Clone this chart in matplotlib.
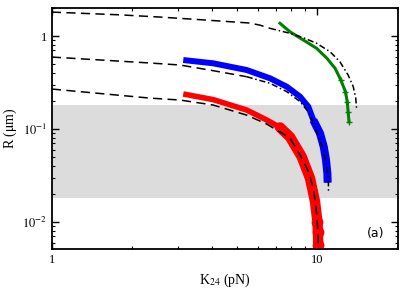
import numpy as np
import matplotlib
matplotlib.use("Agg")
import matplotlib.pyplot as plt
from matplotlib.ticker import FixedLocator, FuncFormatter, LogLocator, NullFormatter

plt.rcParams['font.family'] = ['Liberation Serif', 'DejaVu Serif']
plt.rcParams['mathtext.fontset'] = 'stix'

# theory curves
top_k = [1.0, 1.81, 2.56, 3.62, 5.58, 6.09, 6.65, 7.91, 8.88, 9.97, 11.2, 12.2, 13.1, 13.7, 14.0, 14.1]
top_r = [1.81, 1.69, 1.60, 1.50, 1.38, 1.31, 1.21, 1.07, 0.959, 0.835, 0.678, 0.529, 0.381, 0.285, 0.214, 0.164]
mid_k = [1.0, 2.34, 3.04, 4.06, 5.43, 6.65, 7.69, 8.63, 9.27, 9.68, 10.6, 11.03, 11.05]
mid_r = [0.594, 0.513, 0.488, 0.424, 0.365, 0.310, 0.252, 0.197, 0.153, 0.115, 0.059, 0.0307, 0.0204]
bot_k = [1.0, 2.34, 3.04, 4.06, 5.43, 6.46, 7.04, 7.91, 8.63, 9.27, 9.68, 9.91, 10.04, 10.11]
bot_r = [0.269, 0.215, 0.205, 0.181, 0.141, 0.113, 0.0975, 0.080, 0.0525, 0.0353, 0.0232, 0.0145, 0.0093, 0.0059]

# simulation data
red_k = [3.13, 4.06, 5.43, 6.46, 7.25, 7.91, 8.75, 9.41, 9.83, 10.03, 10.08, 10.11]
red_r = [0.238, 0.207, 0.160, 0.125, 0.104, 0.082, 0.0504, 0.0295, 0.0165, 0.0101, 0.0077, 0.00566]
blue_k = [3.13, 4.06, 5.43, 6.65, 7.69, 8.63, 9.27, 9.68, 10.26, 10.6, 10.81, 10.94, 10.97]
blue_r = [0.552, 0.509, 0.431, 0.351, 0.285, 0.2225, 0.174, 0.125, 0.0899, 0.0645, 0.0465, 0.0334, 0.0265]
green_k = [7.25, 7.91, 8.88, 9.97, 10.9, 11.7, 12.3, 12.8, 13.0, 13.1, 13.2]
green_r = [1.37, 1.11, 0.906, 0.737, 0.576, 0.449, 0.336, 0.252, 0.197, 0.153, 0.120]

band = (0.018, 0.18)

fig = plt.figure(figsize=(4.15, 2.88), dpi=100)
ax = fig.add_axes([0.125, 0.135, 0.834, 0.837])

ax.axhspan(band[0], band[1], color='#dcdcdc', lw=0, zorder=0)

def split_plot(k, r, kc):
    k = np.array(k); r = np.array(r)
    i = np.searchsorted(k, kc)
    ax.plot(k[:i + 1], r[:i + 1], color='k', lw=1.1, dashes=(6, 3.5), zorder=4)
    ax.plot(k[i:], r[i:], color='k', lw=1.1, dashes=(4, 1.8, 1, 1.8), zorder=4)

# red: thin start, fat marker band at the tail
ax.plot(red_k, red_r, color='red', lw=4, solid_capstyle='butt', solid_joinstyle='round', zorder=2)
ax.plot(red_k[4:], red_r[4:], color='red', lw=7.5, solid_capstyle='round', solid_joinstyle='round', zorder=2)
ax.plot(red_k[-3:], red_r[-3:], 'o', color='red', ms=7.5, zorder=2)
# blue
ax.plot(blue_k, blue_r, color='blue', lw=4.3, solid_capstyle='butt', solid_joinstyle='round', zorder=2)
ax.plot(blue_k[7:], blue_r[7:], color='blue', lw=5.8, solid_capstyle='butt', solid_joinstyle='round', zorder=2)
# green
ax.plot(green_k, green_r, color='green', lw=2.2, solid_joinstyle='round', zorder=3)
ax.plot(green_k[-5:], green_r[-5:], '+', color='green', ms=4, mew=1, zorder=3)

split_plot(top_k, top_r, 6.65)
split_plot(mid_k, mid_r, 5.43)
ax.plot(bot_k, bot_r, color='k', lw=1.1, dashes=(6, 3.5), zorder=4)

ax.set_xscale('log')
ax.set_yscale('log')
ax.set_xlim(1, 20.2)
ax.set_ylim(0.0051, 2.0)

ax.xaxis.set_major_locator(FixedLocator([1, 10]))
ax.xaxis.set_major_formatter(FuncFormatter(lambda v, p: '%d' % v))
ax.xaxis.set_minor_locator(LogLocator(base=10, subs=np.arange(2, 10)))
ax.xaxis.set_minor_formatter(NullFormatter())
ax.yaxis.set_major_locator(FixedLocator([0.01, 0.1, 1]))
ax.yaxis.set_major_formatter(FuncFormatter(
    lambda v, p: '1' if v >= 1 else r'$10^{%d}$' % round(np.log10(v))))
ax.yaxis.set_minor_locator(LogLocator(base=10, subs=np.arange(2, 10)))
ax.yaxis.set_minor_formatter(NullFormatter())

ax.tick_params(which='both', direction='in', top=True, right=True, labelsize=9)
ax.tick_params(which='major', length=5, width=1)
ax.tick_params(which='minor', length=2.5, width=0.8)
for s in ax.spines.values():
    s.set_linewidth(1.3)

ax.set_xlabel(r'K$_{24}$ (pN)', fontsize=10, labelpad=4)
ax.set_ylabel(r'R ($\mathrm{\mu}$m)', fontsize=10, labelpad=2)
ax.text(0.935, 0.065, '(a)', transform=ax.transAxes, fontsize=9,
        family='DejaVu Sans', ha='center', va='center')

fig.savefig('out.png', dpi=100)
